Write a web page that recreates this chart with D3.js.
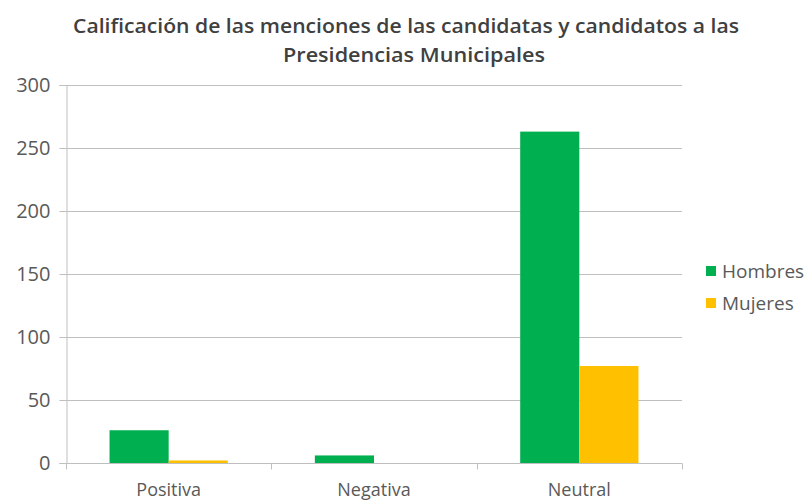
<!DOCTYPE html>
<html>
<head>
<meta charset="utf-8">
<script src="https://cdn.jsdelivr.net/npm/d3@7"></script>
<style>
  body { margin: 0; background: #fff; }
  text { font-family: "Open Sans", sans-serif; }
</style>
</head>
<body>
<div id="chart"></div>
<script>
// data
const categories = ["Positiva", "Negativa", "Neutral"];
const seriesNames = ["Hombres", "Mujeres"];
const hombres = [26, 6, 263];
const mujeres = [2, 0, 77];
const yTicks = [0, 50, 100, 150, 200, 250, 300];
const colors = ["#00B050", "#FFC000"];

const width = 808, height = 502;
const margin = {top: 85, right: 126, bottom: 39, left: 66};

const svg = d3.select("#chart").append("svg")
    .attr("width", width)
    .attr("height", height);

// title
const title = svg.append("text")
    .attr("x", 406)
    .attr("text-anchor", "middle")
    .attr("font-size", 19.5)
    .attr("font-weight", 600)
    .attr("fill", "#404040");
title.append("tspan").attr("x", 406).attr("y", 33)
    .attr("textLength", 666).attr("lengthAdjust", "spacingAndGlyphs")
    .text("Calificación de las menciones de las candidatas y candidatos a las");
title.append("tspan").attr("x", 414).attr("y", 62)
    .attr("textLength", 262).attr("lengthAdjust", "spacingAndGlyphs")
    .text("Presidencias Municipales");

const x = d3.scaleBand()
    .domain(categories)
    .range([margin.left, width - margin.right])
    .paddingInner(0.424)
    .paddingOuter(0.212);

const xSub = d3.scaleBand()
    .domain(seriesNames)
    .range([0, x.bandwidth()]);

const y = d3.scaleLinear()
    .domain([0, 300])
    .range([height - margin.bottom, margin.top]);

// gridlines
svg.append("g")
    .selectAll("line")
    .data(yTicks.filter(d => d > 0))
    .join("line")
    .attr("x1", margin.left)
    .attr("x2", width - margin.right)
    .attr("y1", d => Math.round(y(d)) + 0.5)
    .attr("y2", d => Math.round(y(d)) + 0.5)
    .attr("stroke", "#BFBFBF");

// y axis
const yAxis = svg.append("g")
    .attr("transform", `translate(${margin.left + 0.5},0)`)
    .call(d3.axisLeft(y).tickValues(yTicks).tickSize(7).tickPadding(9));
yAxis.select(".domain").attr("stroke", "#BFBFBF");
yAxis.selectAll(".tick line").attr("stroke", "#BFBFBF");
yAxis.selectAll(".tick text")
    .attr("font-size", 20)
    .attr("fill", "#595959")
    .attr("font-family", "'Open Sans', sans-serif");

// bars
const groups = svg.append("g")
    .selectAll("g")
    .data(categories.map((c, i) => ({cat: c, vals: [hombres[i], mujeres[i]]})))
    .join("g")
    .attr("transform", d => `translate(${x(d.cat)},0)`);

groups.selectAll("rect")
    .data(d => d.vals.map((v, j) => ({name: seriesNames[j], v: v, j: j})))
    .join("rect")
    .attr("x", d => xSub(d.name))
    .attr("width", xSub.bandwidth())
    .attr("y", d => y(d.v))
    .attr("height", d => y(0) - y(d.v))
    .attr("fill", d => colors[d.j]);

// x axis with tick marks at category boundaries
const step = x.step();
const xBase = Math.round(y(0)) + 0.5;
svg.append("line")
    .attr("x1", margin.left)
    .attr("x2", width - margin.right)
    .attr("y1", xBase)
    .attr("y2", xBase)
    .attr("stroke", "#BFBFBF");
svg.append("g")
    .selectAll("line")
    .data(d3.range(categories.length + 1))
    .join("line")
    .attr("x1", i => Math.round(margin.left + i * step) + 0.5)
    .attr("x2", i => Math.round(margin.left + i * step) + 0.5)
    .attr("y1", xBase)
    .attr("y2", xBase + 6)
    .attr("stroke", "#BFBFBF");

svg.append("g")
    .selectAll("text")
    .data(categories)
    .join("text")
    .attr("x", d => x(d) + x.bandwidth() / 2)
    .attr("y", 496)
    .attr("text-anchor", "middle")
    .attr("font-size", 18)
    .attr("fill", "#595959")
    .text(d => d);

// legend
const legend = svg.append("g")
    .selectAll("g")
    .data(seriesNames)
    .join("g")
    .attr("transform", (d, i) => `translate(706,${266 + i * 32})`);
legend.append("rect")
    .attr("width", 10)
    .attr("height", 10)
    .attr("fill", (d, i) => colors[i]);
legend.append("text")
    .attr("x", 16)
    .attr("y", 12)
    .attr("font-size", 19)
    .attr("fill", "#595959")
    .text(d => d);
</script>
</body>
</html>
